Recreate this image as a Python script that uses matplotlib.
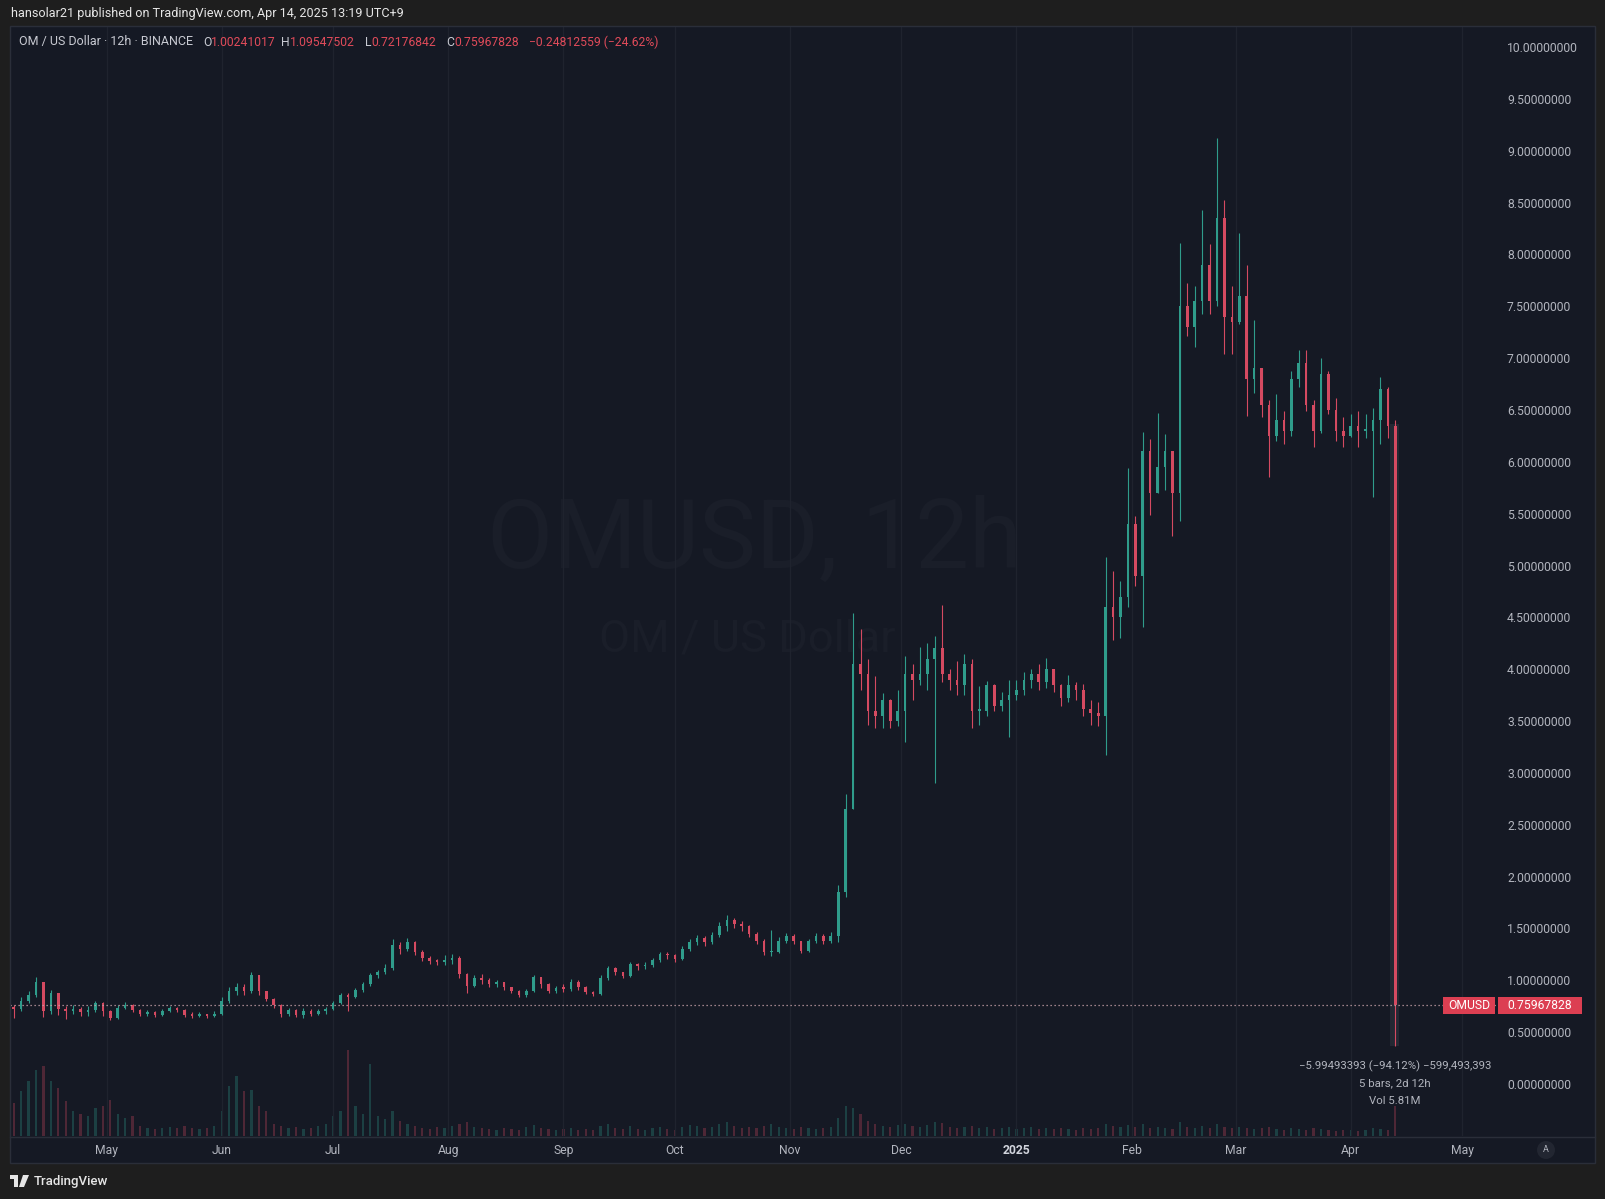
import datetime as dt
import numpy as np
import matplotlib
matplotlib.use("Agg")
import matplotlib.pyplot as plt
import matplotlib.dates as mdates
from matplotlib.patches import Rectangle, Polygon
from matplotlib.transforms import blended_transform_factory

plt.rcParams['font.family'] = ['Roboto', 'DejaVu Sans']

# ---------------- data ----------------
start_date = dt.datetime(2024, 4, 5)
bar_days = 2
first_open = 0.74
close = [0.72, 0.80, 0.86, 0.98, 0.70, 0.88, 0.72, 0.70, 0.72, 0.69,
         0.71, 0.78, 0.70, 0.64, 0.73, 0.76, 0.71, 0.68, 0.69, 0.67,
         0.70, 0.73, 0.71, 0.67, 0.66, 0.67, 0.66, 0.68, 0.80, 0.90,
         0.94, 0.90, 1.05, 0.90, 0.82, 0.76, 0.68, 0.71, 0.67, 0.70,
         0.68, 0.70, 0.72, 0.78, 0.86, 0.84, 0.91, 0.96, 1.05, 1.08,
         1.12, 1.34, 1.30, 1.37, 1.27, 1.22, 1.19, 1.18, 1.20, 1.22,
         1.06, 0.95, 1.02, 1.00, 0.96, 0.98, 0.94, 0.90, 0.86, 0.90,
         1.03, 0.96, 0.90, 0.93, 0.92, 0.98, 0.94, 0.89, 0.87, 1.02,
         1.12, 1.08, 1.04, 1.16, 1.14, 1.15, 1.20, 1.25, 1.24, 1.21,
         1.30, 1.37, 1.41, 1.37, 1.44, 1.52, 1.58, 1.54, 1.52, 1.45,
         1.38, 1.27, 1.27, 1.38, 1.43, 1.38, 1.28, 1.38, 1.43, 1.38,
         1.43, 1.85, 2.65, 4.05, 3.95, 3.60, 3.55, 3.70, 3.50, 3.60,
         3.95, 3.90, 3.95, 4.10, 4.20, 3.95, 3.90, 3.85, 4.05, 3.60,
         3.60, 3.85, 3.65, 3.70, 3.75, 3.80, 3.90, 3.95, 3.88, 4.00,
         3.85, 3.72, 3.85, 3.80, 3.62, 3.58, 3.55, 4.60, 4.50, 4.70,
         5.40, 4.90, 6.10, 5.70, 5.95, 6.10, 5.70, 7.50, 7.30, 7.55,
         7.90, 7.55, 8.35, 7.40, 7.35, 7.60, 6.80, 6.90, 6.55, 6.25,
         6.40, 6.30, 6.80, 6.95, 6.55, 6.30, 6.85, 6.50, 6.30, 6.25,
         6.35, 6.30, 6.30, 6.40, 6.70, 6.35, 0.76]
high = [0.76, 0.84, 0.90, 1.03, 0.98, 0.91, 0.88, 0.75, 0.76, 0.74,
        0.75, 0.80, 0.79, 0.71, 0.76, 0.79, 0.77, 0.72, 0.71, 0.70,
        0.72, 0.75, 0.74, 0.72, 0.69, 0.69, 0.68, 0.70, 0.84, 0.94,
        0.97, 0.96, 1.08, 1.04, 0.90, 0.83, 0.77, 0.73, 0.72, 0.73,
        0.72, 0.72, 0.74, 0.80, 0.88, 0.88, 0.93, 0.98, 1.07, 1.10,
        1.16, 1.40, 1.37, 1.41, 1.38, 1.29, 1.23, 1.21, 1.24, 1.25,
        1.23, 1.07, 1.05, 1.06, 1.02, 1.00, 0.98, 0.94, 0.91, 0.92,
        1.05, 1.03, 0.97, 0.95, 0.96, 1.01, 1.00, 0.95, 0.90, 1.05,
        1.14, 1.13, 1.08, 1.18, 1.17, 1.18, 1.22, 1.27, 1.27, 1.25,
        1.33, 1.40, 1.44, 1.43, 1.47, 1.56, 1.63, 1.60, 1.57, 1.53,
        1.47, 1.40, 1.49, 1.42, 1.46, 1.45, 1.38, 1.40, 1.46, 1.45,
        1.47, 1.92, 2.80, 4.54, 4.39, 4.10, 3.93, 3.77, 3.71, 3.80,
        4.13, 4.05, 4.21, 4.25, 4.32, 4.62, 4.00, 4.08, 4.15, 4.10,
        3.84, 3.89, 3.86, 3.78, 3.90, 3.90, 3.97, 4.00, 4.05, 4.11,
        3.98, 3.86, 3.94, 3.88, 3.86, 3.70, 3.68, 5.08, 4.95, 4.85,
        5.94, 5.48, 6.29, 6.22, 6.47, 6.27, 6.10, 8.11, 7.72, 7.70,
        8.43, 8.10, 9.12, 8.52, 7.70, 8.21, 7.90, 7.37, 6.90, 6.60,
        6.65, 6.49, 6.88, 7.08, 7.08, 6.60, 7.00, 6.88, 6.62, 6.43,
        6.46, 6.49, 6.46, 6.52, 6.82, 6.72, 6.40]
low = [0.64, 0.70, 0.78, 0.84, 0.65, 0.68, 0.67, 0.63, 0.68, 0.66,
       0.66, 0.69, 0.66, 0.62, 0.63, 0.72, 0.69, 0.66, 0.66, 0.65,
       0.66, 0.69, 0.69, 0.65, 0.64, 0.65, 0.64, 0.65, 0.67, 0.78,
       0.86, 0.86, 0.88, 0.86, 0.80, 0.73, 0.65, 0.66, 0.65, 0.64,
       0.66, 0.67, 0.68, 0.71, 0.77, 0.70, 0.83, 0.89, 0.95, 1.02,
       1.06, 1.10, 1.25, 1.28, 1.24, 1.19, 1.16, 1.15, 1.15, 1.16,
       1.02, 0.88, 0.94, 0.96, 0.94, 0.94, 0.91, 0.88, 0.84, 0.84,
       0.89, 0.93, 0.88, 0.88, 0.89, 0.90, 0.91, 0.87, 0.85, 0.86,
       1.00, 1.05, 1.02, 1.03, 1.10, 1.11, 1.13, 1.18, 1.21, 1.18,
       1.20, 1.28, 1.34, 1.33, 1.35, 1.42, 1.48, 1.50, 1.48, 1.42,
       1.35, 1.24, 1.23, 1.26, 1.36, 1.35, 1.26, 1.27, 1.36, 1.35,
       1.36, 1.37, 1.80, 2.65, 3.80, 3.46, 3.43, 3.43, 3.43, 3.45,
       3.30, 3.70, 3.85, 3.80, 2.90, 3.88, 3.80, 3.75, 3.75, 3.43,
       3.46, 3.55, 3.60, 3.60, 3.35, 3.70, 3.75, 3.82, 3.80, 3.82,
       3.78, 3.65, 3.68, 3.70, 3.55, 3.46, 3.45, 3.17, 4.28, 4.30,
       4.60, 4.80, 4.41, 5.49, 5.78, 5.73, 5.28, 5.43, 7.21, 7.11,
       7.43, 7.43, 7.50, 7.04, 7.04, 7.33, 6.44, 6.66, 6.43, 5.85,
       6.20, 6.17, 6.25, 6.72, 6.49, 6.14, 6.28, 6.46, 6.20, 6.14,
       6.24, 6.14, 6.23, 5.66, 6.17, 6.23, 0.37]
volume_m = [33, 45, 55, 66, 70, 55, 48, 35, 25, 22,
            20, 28, 30, 36, 22, 18, 20, 10, 8, 7,
            8, 9, 8, 10, 8, 7, 8, 10, 25, 50,
            60, 45, 46, 30, 25, 12, 10, 8, 9, 7,
            8, 10, 12, 20, 25, 86, 30, 22, 72, 20,
            17, 25, 15, 12, 10, 8, 7, 9, 8, 10,
            12, 14, 9, 8, 7, 6, 8, 7, 6, 9,
            11, 8, 7, 6, 7, 8, 6, 7, 6, 10,
            12, 8, 7, 10, 7, 6, 8, 9, 7, 6,
            9, 11, 10, 8, 9, 12, 14, 10, 8, 9,
            8, 10, 12, 9, 8, 7, 9, 8, 7, 8,
            9, 18, 30, 28, 22, 15, 12, 10, 9, 11,
            12, 10, 9, 11, 14, 13, 9, 8, 9, 10,
            8, 9, 7, 8, 9, 7, 8, 9, 7, 8,
            7, 8, 7, 6, 8, 7, 8, 12, 10, 9,
            11, 9, 12, 8, 9, 8, 7, 14, 9, 8,
            10, 8, 12, 9, 8, 9, 8, 7, 8, 9,
            7, 6, 8, 7, 6, 8, 7, 6, 5, 6,
            6, 5, 6, 8, 7, 6, 30]
month_ticks = ["2024-05-01", "2024-06-01", "2024-07-01", "2024-08-01", "2024-09-01",
               "2024-10-01", "2024-11-01", "2024-12-01", "2025-01-01", "2025-02-01",
               "2025-03-01", "2025-04-01", "2025-05-01"]
month_labels = ["May", "Jun", "Jul", "Aug", "Sep", "Oct", "Nov", "Dec", "2025",
                "Feb", "Mar", "Apr", "May"]
price_ticks = [0.0, 0.5, 1.0, 1.5, 2.0, 2.5, 3.0, 3.5, 4.0, 4.5, 5.0,
               5.5, 6.0, 6.5, 7.0, 7.5, 8.0, 8.5, 9.0, 9.5, 10.0]
last_price = 0.75967828
legend_title = "OM / US Dollar · 12h · BINANCE"
legend_keys = ["O", "H", "L", "C"]
legend_vals = ["1.00241017", "1.09547502", "0.72176842", "0.75967828"]
change_text = "\u22120.24812559 (\u221224.62%)"
header_text = "hansolar21 published on TradingView.com, Apr 14, 2025 13:19 UTC+9"
measure_lines = ["\u22125.99493393 (\u221294.12%) \u2212599,493,393", "5 bars, 2d 12h", "Vol 5.81M"]
measure_start = dt.datetime(2025, 4, 11, 12)
measure_end = dt.datetime(2025, 4, 14, 0)
measure_low, measure_high = 0.37, 6.36

# ---------------- style ----------------
W, H = 1605, 1199
OUTER = "#1e1e1e"
BG = "#151924"
BORDER = "#2a2e39"
UP = "#2f9c8b"
DOWN = "#d54a61"
TXT = "#b2b5be"
RED_TXT = "#e04b5a"

def fx(px):
    return px / W

def fy(py):
    return 1 - py / H

fig = plt.figure(figsize=(W / 100, H / 100), dpi=100, facecolor=OUTER)
renderer = fig.canvas.get_renderer()

def fit(t, target_px):
    bb = t.get_window_extent(renderer)
    t.set_fontsize(t.get_fontsize() * target_px / bb.width)
    return t

fig.patches.append(Rectangle((fx(10), fy(1163)), fx(1595) - fx(10), fy(26) - fy(1163),
                             transform=fig.transFigure, facecolor=BG, edgecolor='none', zorder=-5))

rect = [fx(10), fy(1136), (1497 - 10) / W, (1136 - 27) / H]
axv = fig.add_axes(rect, zorder=0)
ax = fig.add_axes(rect, zorder=1)
ax.set_facecolor('none')
axv.set_facecolor('none')

base = mdates.date2num(start_date)
n = len(close)
xc = base + bar_days * np.arange(n) + bar_days / 2.0
c = np.array(close)
o = np.concatenate([[first_open], c[:-1]])
h = np.maximum(np.array(high), np.maximum(o, c))
l = np.minimum(np.array(low), np.minimum(o, c))
up = c >= o
cols = np.where(up, UP, DOWN)

xlim = (base, base + (1497 - 10) / 3.714)
for a in (ax, axv):
    a.set_xlim(*xlim)
    for s in a.spines.values():
        s.set_visible(False)

# volume
axv.bar(xc, volume_m, width=0.6, color=cols, alpha=0.3, linewidth=0)
axv.set_ylim(0, 1109)
axv.set_xticks([])
axv.set_yticks([])

# candles
ax.vlines(xc, l, h, colors=cols, linewidth=0.8, zorder=2)
ax.bar(xc, np.maximum(np.abs(c - o), 0.012), bottom=np.minimum(o, c), width=0.7,
       color=cols, linewidth=0, zorder=2.1)
ax.set_ylim(-0.501, 10.193)

# ticks
ax.yaxis.tick_right()
ax.set_yticks(price_ticks)
ax.set_yticklabels([f"{v:.8f}" for v in price_ticks])
ax.tick_params(axis='y', length=0, pad=7.2, labelsize=8.7, labelcolor=TXT)
mt = [mdates.date2num(dt.datetime.strptime(s, "%Y-%m-%d")) for s in month_ticks]
ax.set_xticks(mt)
ax.set_xticklabels(month_labels)
ax.tick_params(axis='x', length=0, pad=6, labelsize=8.7, labelcolor=TXT)
for t in ax.get_xticklabels():
    if t.get_text() == "2025":
        t.set_fontweight('bold')
        t.set_color('#d1d4dc')
ax.grid(axis='x', color='#1f232e', linewidth=1, zorder=0)
ax.set_axisbelow(True)

# watermark
wm1 = ax.text(fx(754), fy(542), "OMUSD, 12h", transform=fig.transFigure, ha='center', va='center',
              fontsize=69, color='#1a1e29', zorder=0.5)
wm2 = ax.text(fx(747), fy(640), "OM / US Dollar", transform=fig.transFigure, ha='center', va='center',
              fontsize=33, color='#1a1e29', zorder=0.5)
fit(wm1, 535)
fit(wm2, 297)

# measure highlight
ax.add_patch(Rectangle((mdates.date2num(measure_start), measure_low),
                       mdates.date2num(measure_end) - mdates.date2num(measure_start),
                       measure_high - measure_low, facecolor='#9598a1', alpha=0.12,
                       edgecolor='none', zorder=1.5))

# last price line and labels
ax.axhline(last_price, color='#c9a3aa', linewidth=0.9, linestyle=(0, (1, 2.2)), zorder=3)
trans = blended_transform_factory(fig.transFigure, ax.transData)
hh = 17 / 103.7
ax.add_patch(Rectangle((fx(1443), last_price - hh / 2), fx(1495) - fx(1443), hh,
                       transform=trans, facecolor='#dc3f52', edgecolor='none', clip_on=False, zorder=6))
ax.add_patch(Rectangle((fx(1498), last_price - hh / 2), fx(1582) - fx(1498), hh,
                       transform=trans, facecolor='#dc3f52', edgecolor='none', clip_on=False, zorder=6))
ax.text(fx(1469), last_price, "OMUSD", transform=trans, ha='center', va='center', color='white',
        fontsize=8.7, clip_on=False, zorder=7)
ax.text(fx(1507), last_price, f"{last_price:.8f}", transform=trans, ha='left', va='center',
        color='white', fontsize=8.7, clip_on=False, zorder=7)

# measurement text
for i, s in enumerate(measure_lines):
    fig.text(fx(1395), fy(1066 + 17.5 * i), s, ha='center', va='center', color=TXT, fontsize=8.2)

# borders
fig.patches.append(Rectangle((fx(10), fy(1163)), fx(1595) - fx(10), fy(26) - fy(1163),
                             transform=fig.transFigure, facecolor='none', edgecolor=BORDER,
                             linewidth=1, zorder=5))
fig.lines.append(plt.Line2D([fx(10), fx(1595)], [fy(1136.5), fy(1136.5)], transform=fig.transFigure,
                            color=BORDER, linewidth=1, zorder=5))

# auto button
fig.text(fx(1546), fy(1150), "A", ha='center', va='center', fontsize=6.5, color=TXT,
         bbox=dict(boxstyle='circle,pad=0.5', facecolor='#222631', edgecolor='none'))

# header (fit to its measured width in the reference)
hdr = fig.text(fx(11), fy(14), header_text, ha='left', va='center', color='#e6e6e6', fontsize=10)
fit(hdr, 392)

# legend row
ttl = fig.text(fx(18.7), fy(42), legend_title, ha='left', va='center', color='#c8cad2', fontsize=9.0)
fit(ttl, 174)
key_x = [203, 281, 365, 446]
for k, xp, v in zip(legend_keys, key_x, legend_vals):
    t = fig.text(fx(xp), fy(42), k, ha='left', va='center', color='#c8cad2', fontsize=8.7)
    wpx = t.get_window_extent(renderer).width
    fig.text(fx(xp + wpx), fy(42), v, ha='left', va='center', color=RED_TXT, fontsize=8.7)
fig.text(fx(529), fy(42), change_text, ha='left', va='center', color=RED_TXT, fontsize=8.7)

# footer logo
tf = fig.transFigure
fig.patches.append(Rectangle((fx(10), fy(1179)), fx(18) - fx(10), fy(1175) - fy(1179),
                             transform=tf, facecolor='#e6e6e6', edgecolor='none'))
fig.patches.append(Rectangle((fx(14), fy(1187)), fx(18) - fx(14), fy(1175) - fy(1187),
                             transform=tf, facecolor='#e6e6e6', edgecolor='none'))
fig.patches.append(Polygon([(fx(23), fy(1175)), (fx(29), fy(1175)), (fx(24), fy(1187)), (fx(19), fy(1187))],
                           closed=True, transform=tf, facecolor='#e6e6e6', edgecolor='none'))
fig.text(fx(34), fy(1181), "TradingView", ha='left', va='center', color='#e6e6e6', fontsize=9.5,
         fontweight='medium')

fig.savefig("out.png", dpi=100, facecolor=OUTER)
